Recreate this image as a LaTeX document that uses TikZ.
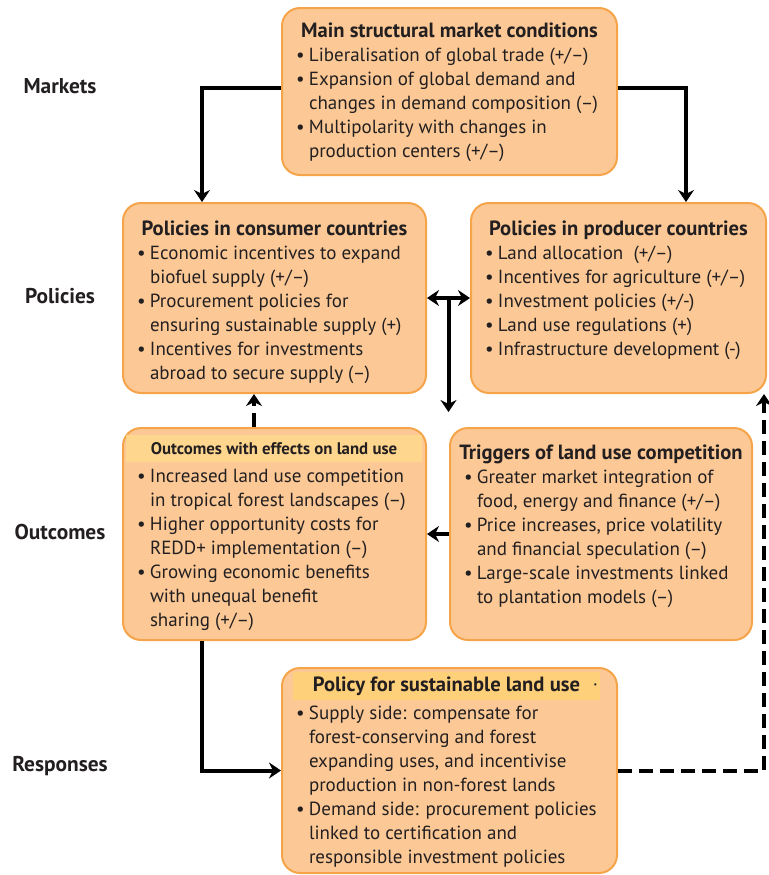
\documentclass[tikz,border=0pt]{standalone}
\usepackage{fontspec}
\setmainfont{PT Sans}
\usepackage{xcolor}
\usepackage{tikz}
\usetikzlibrary{arrows.meta, calc}
\definecolor{boxfill}{RGB}{252,201,150}
\definecolor{boxline}{RGB}{246,164,74}
\definecolor{bandfill}{RGB}{254,214,142}
\definecolor{bandfilltwo}{RGB}{255,208,122}
\definecolor{inktext}{RGB}{35,31,32}
\setlength{\fboxsep}{0pt}
\tikzstyle{box} = [rectangle, rounded corners=9pt, draw=boxline, line width=1pt, fill=boxfill, inner sep=0pt, text=inktext, font=\fontsize{9.5}{12}\selectfont]
\tikzstyle{arrow} = [line width=2pt,->,>={Stealth[length=6pt,width=8pt]}]
\tikzstyle{dasharrow} = [arrow, dash pattern=on 7pt off 3.5pt]
\tikzstyle{rowlabel} = [text=inktext, font=\fontsize{10.7}{12}\selectfont\bfseries]
% bullet line, continuation line, box heading
\newcommand{\bl}{\par\hspace*{7pt}\makebox[6.5pt][l]{\textbullet}}
\newcommand{\cl}{\par\hspace*{13.5pt}}
\newcommand{\firstbl}[1]{\par\nointerlineskip\rule{0pt}{#1}\hspace*{7pt}\makebox[6.5pt][l]{\textbullet}}
\newcommand{\boxhead}[2]{\rule{0pt}{#1}\hfill{\fontsize{10.3}{12}\selectfont\bfseries #2}\hfill\null}

\begin{document}
\begin{tikzpicture}[x=1pt, y=-1pt]
\useasboundingbox (0,0) rectangle (384,437.5);

% Row labels
\node[rowlabel] (lmarkets) at (30,43) {Markets};
\node[rowlabel] (lpolicies) at (30,148) {Policies};
\node[rowlabel] (loutcomes) at (30,266) {Outcomes};
\node[rowlabel] (lresponses) at (30,383) {Responses};

% Markets
\node[box] (mkt) at (224.75,45.75) {\parbox[c][83.5pt][t]{167.5pt}{\boxhead{14.5pt}{Main structural market conditions}
\bl Liberalisation of global trade (+/–)
\bl Expansion of global demand and
\cl changes in demand composition (–)
\bl Multipolarity with changes in
\cl production centers (+/–)}};

% Policies
\node[box] (cons) at (137.25,149) {\parbox[c][95pt][t]{151.5pt}{\boxhead{16pt}{Policies in consumer countries}
\bl Economic incentives to expand
\cl biofuel supply (+/–)
\bl Procurement policies for
\cl ensuring sustainable supply (+)
\bl Incentives for investments
\cl abroad to secure supply (–)}};

\node[box] (prod) at (309.25,149) {\parbox[c][95pt][t]{147.5pt}{\boxhead{16pt}{Policies in producer countries}
\bl Land allocation~ (+/–)
\bl Incentives for agriculture (+/–)
\bl Investment policies (+/-)
\bl Land use regulations (+)
\bl Infrastructure development (-)}};

% Outcomes
\node[box] (outc) at (137.25,267) {\parbox[c][106pt][t]{151.5pt}{\vspace*{3.5pt}\hspace*{1.5pt}\colorbox{bandfill}{\parbox[b][13.5pt][c]{148pt}{\centering\fontsize{8.4}{9}\selectfont\bfseries Outcomes with effects on land use}}
\firstbl{10pt}Increased land use competition
\cl in tropical forest landscapes (–)
\bl Higher opportunity costs for
\cl REDD+ implementation (–)
\bl Growing economic benefits
\cl with unequal benefit
\cl sharing (+/–)}};

\node[box] (trig) at (300.5,267) {\parbox[c][106pt][t]{151pt}{\boxhead{15.5pt}{Triggers of land use competition}
\bl Greater market integration of
\cl food, energy and finance (+/–)
\bl Price increases, price volatility
\cl and financial speculation (–)
\bl Large-scale investments linked
\cl to plantation models (–)}};

% Responses
\node[box] (pol) at (224.75,385.25) {\parbox[c][102.5pt][t]{167.5pt}{\vspace*{2pt}\hspace*{5.5pt}\colorbox{bandfilltwo}{\parbox[b][14pt][c]{153.5pt}{\centering\fontsize{10.3}{12}\selectfont\bfseries Policy for sustainable land use}}\llap{\raisebox{5pt}{\textperiodcentered}\hspace{1pt}}
\firstbl{9.5pt}Supply side: compensate for
\cl forest-conserving and forest
\cl expanding uses, and incentivise
\cl production in non-forest lands
\bl Demand side: procurement policies
\cl linked to certification and
\cl responsible investment policies}};

% Arrows
\draw[arrow] ([yshift=2pt]mkt.west) -| ([xshift=40pt]cons.north west);
\draw[arrow] ([yshift=2pt]mkt.east) -| ([xshift=108pt]prod.north west);
\draw[arrow,<->] (cons.east) -- (prod.west);
\coordinate (mid) at ($(cons.east)!0.5!(prod.west)$);
\coordinate (midend) at ([yshift=7.5pt]mid |- outc.north);
\draw[arrow] (mid) -- (midend);
\draw[dasharrow] ([xshift=66pt]outc.north west) -- ([xshift=66pt]cons.south west);
\draw[arrow] (trig.west) -- (outc.east);
\draw[arrow] ([xshift=40pt]outc.south west) |- (pol.west);
\draw[dasharrow] (pol.east) -| ([xshift=-1.5pt]prod.south east);

\end{tikzpicture}
\end{document}
